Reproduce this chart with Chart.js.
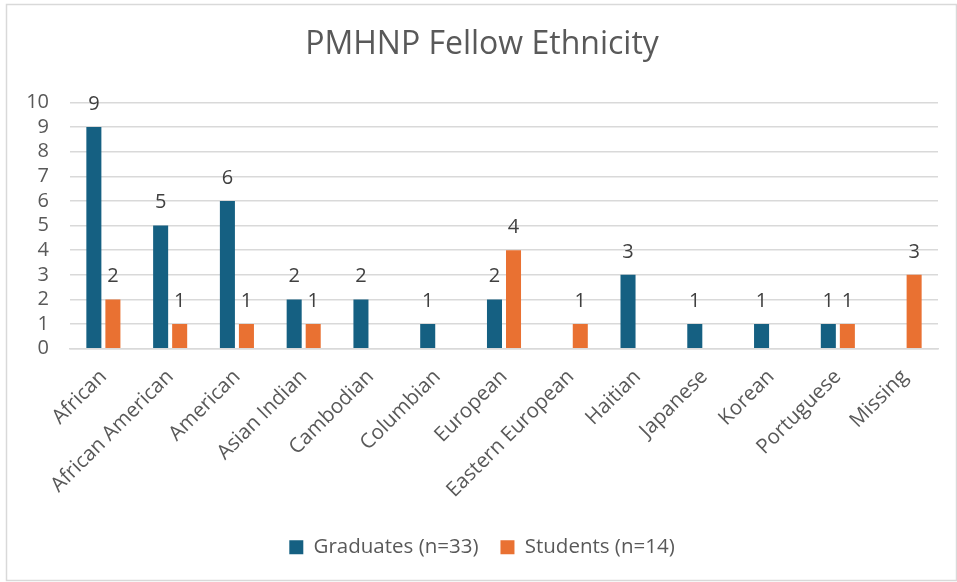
<!DOCTYPE html>
<html>
<head>
<meta charset="utf-8">
<script src="https://cdn.jsdelivr.net/npm/chart.js@4"></script>
<style>
html,body{margin:0;padding:0;background:#fff;}
#wrap{position:relative;width:957px;height:582px;}
</style>
</head>
<body>
<div id="wrap"><canvas id="c" width="957" height="582"></canvas></div>
<script>
const categories = ["African","African American","American","Asian Indian","Cambodian","Columbian","European","Eastern European","Haitian","Japanese","Korean","Portuguese","Missing"];
const graduates = [9,5,6,2,2,1,2,null,3,1,1,1,null];
const students = [2,1,1,1,null,null,4,1,null,null,null,1,3];
const seriesNames = ["Graduates (n=33)","Students (n=14)"];
const yTicks = [0,1,2,3,4,5,6,7,8,9,10];

const FONT = "'Open Sans', sans-serif";
const TXT = "#595959";

const borderPlugin = {
  id: 'frame',
  beforeDraw(chart){
    const ctx = chart.ctx;
    ctx.save();
    ctx.fillStyle = '#fff';
    ctx.fillRect(0,0,chart.width,chart.height);
    ctx.strokeStyle = '#d9d9d9';
    ctx.lineWidth = 1.5;
    ctx.strokeRect(6.5,4.5,chart.width-7,chart.height-6);
    ctx.restore();
  }
};

const labelPlugin = {
  id: 'valueLabels',
  afterDatasetsDraw(chart){
    const ctx = chart.ctx;
    ctx.save();
    ctx.font = "20px " + FONT;
    ctx.fillStyle = "#404040";
    ctx.textAlign = 'center';
    ctx.textBaseline = 'bottom';
    chart.data.datasets.forEach((ds, i) => {
      const meta = chart.getDatasetMeta(i);
      meta.data.forEach((bar, j) => {
        const v = ds.data[j];
        if (v === null || v === undefined) return;
        ctx.fillText(String(v), bar.x, bar.y - 13);
      });
    });
    ctx.restore();
  }
};

new Chart(document.getElementById('c'), {
  type: 'bar',
  data: {
    labels: categories,
    datasets: [
      { label: seriesNames[0], data: graduates, backgroundColor: '#156082', categoryPercentage: 0.57, barPercentage: 0.79 },
      { label: seriesNames[1], data: students, backgroundColor: '#E97132', categoryPercentage: 0.57, barPercentage: 0.79 }
    ]
  },
  plugins: [borderPlugin, labelPlugin],
  options: {
    responsive: false,
    animation: false,
    devicePixelRatio: 1,
    layout: { padding: { top: 2, left: 26, right: 19, bottom: 14.4 } },
    plugins: {
      title: {
        display: true,
        text: 'PMHNP Fellow Ethnicity',
        color: TXT,
        font: { family: FONT, size: 32, weight: 'normal' },
        padding: { top: 24, bottom: 38 }
      },
      legend: {
        position: 'bottom',
        labels: {
          color: TXT,
          font: { family: FONT, size: 20.5 },
          boxWidth: 14, boxHeight: 14,
          padding: 22
        }
      },
      tooltip: { enabled: false }
    },
    scales: {
      x: {
        grid: { display: false, drawTicks: false },
        border: { display: true, color: '#d9d9d9', width: 1.5 },
        ticks: { color: TXT, font: { family: FONT, size: 20.5 }, maxRotation: 45, minRotation: 45, padding: 16, autoSkip: false },
        afterFit(scale){ scale.height = 166.4; }
      },
      y: {
        min: 0, max: 10,
        afterBuildTicks(scale){ scale.ticks = yTicks.map(v => ({ value: v })); },
        grid: { color: '#d9d9d9', lineWidth: 1.5, drawTicks: false },
        border: { display: false },
        ticks: { color: TXT, font: { family: FONT, size: 20 }, padding: 21, autoSkip: false },
        afterFit(scale){ scale.width = 44; }
      }
    }
  }
});
</script>
</body>
</html>
